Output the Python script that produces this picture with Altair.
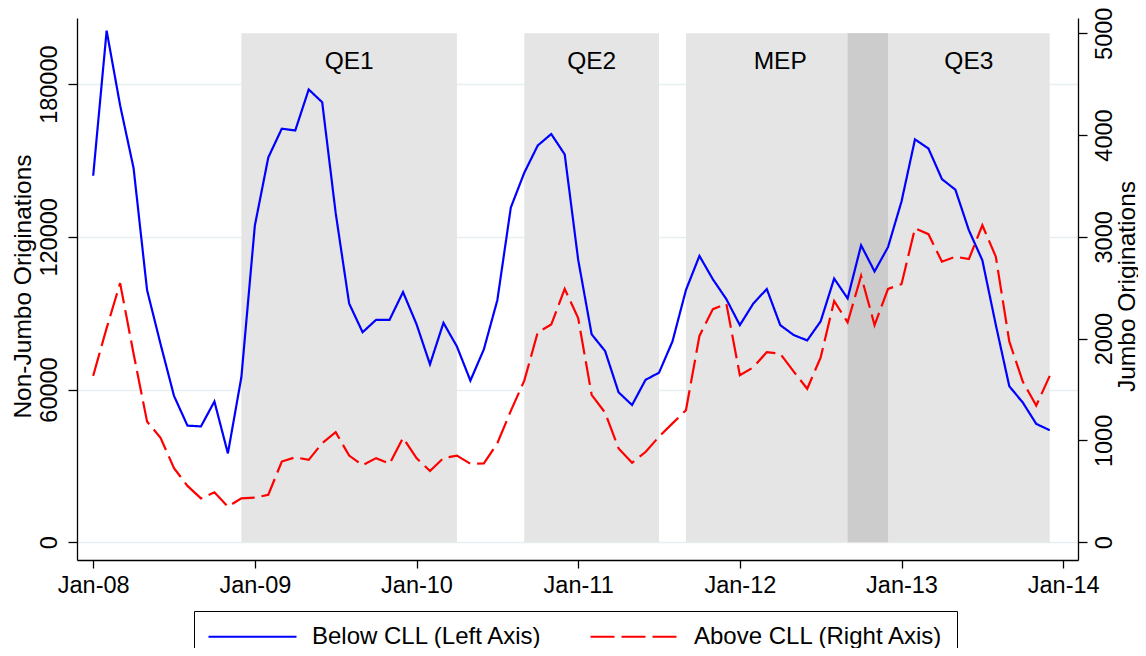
import json
import altair as alt
import pandas as pd

# ---- data ----
start_month = "2008-01"
below_cll = [144000, 201000, 171700, 147000, 99100, 77900, 57500, 45800, 45500, 55300,
             34900, 64800, 124400, 151200, 162500, 161800, 177900, 172900, 129400, 93800,
             82500, 87400, 87400, 98300, 85700, 69900, 86200, 76900, 63500, 75800,
             95100, 131500, 145200, 155900, 160400, 152400, 111000, 81700, 75100, 58900,
             53900, 63800, 66600, 78900, 99100, 112500, 103300, 95500, 85300, 93800,
             99500, 85300, 81400, 79300, 86800, 103600, 95800, 116700, 106400, 116000,
             133900, 158300, 154700, 142700, 138500, 122600, 110800, 85400, 61300, 54900,
             46500, 44000]
above_cll = [1634, 2103, 2545, 1851, 1185, 1026, 728, 553, 430, 490,
             350, 430, 437, 466, 792, 834, 809, 973, 1080, 851,
             756, 826, 770, 1026, 826, 700, 826, 851, 770, 774,
             973, 1290, 1587, 2062, 2138, 2489, 2201, 1448, 1272, 921,
             781, 886, 1037, 1167, 1297, 2026, 2290, 2342, 1640, 1718,
             1868, 1851, 1676, 1507, 1816, 2370, 2160, 2616, 2132, 2489,
             2535, 3085, 3026, 2756, 2805, 2781, 3114, 2805, 1973, 1578,
             1342, 1634]

programs = ["QE1", "QE2", "MEP", "QE3"]
prog_start = ["2008-12", "2010-09", "2011-09", "2012-09"]
prog_end = ["2010-04", "2011-07", "2012-12", "2013-12"]
label_month = ["2009-08", "2011-02", "2012-04", "2013-06"]
label_height = 188700          # left-axis units
shade_top = 200000             # left-axis units (= 5000 on right axis)

tick_labels = ["Jan-08", "Jan-09", "Jan-10", "Jan-11", "Jan-12", "Jan-13", "Jan-14"]
left_ticks = [0, 60000, 120000, 180000]
right_ticks = [0, 1000, 2000, 3000, 4000, 5000]

below_name = "Below CLL (Left Axis)"
above_name = "Above CLL (Right Axis)"

# ---- helpers ----
def midx(s):
    y, m = s.split("-")
    y0, m0 = start_month.split("-")
    return (int(y) - int(y0)) * 12 + int(m) - int(m0)

months = pd.period_range(start_month, periods=len(below_cll), freq="M")
idx = [midx(str(p)) for p in months]

df_below = pd.DataFrame({"t": idx, "v": below_cll, "series": below_name})
df_above = pd.DataFrame({"t": idx, "v": above_cll, "series": above_name})

df_prog = pd.DataFrame({
    "prog": programs,
    "start": [midx(s) for s in prog_start],
    "end": [midx(s) for s in prog_end],
    "lo": 0,
    "hi": shade_top,
})
# overlap of MEP and QE3
mep = df_prog[df_prog.prog == "MEP"].iloc[0]
qe3 = df_prog[df_prog.prog == "QE3"].iloc[0]
df_overlap = pd.DataFrame({"start": [max(mep.start, qe3.start)],
                           "end": [min(mep.end, qe3.end)],
                           "lo": [0], "hi": [shade_top]})
df_labels = pd.DataFrame({"prog": programs,
                          "t": [midx(s) for s in label_month],
                          "y": label_height})

FONT = "Liberation Sans"
LAB = 23.5
TIT = 24.5

x_scale = alt.Scale(domain=[-1.2, 73.1], nice=False, zero=False)
left_scale = alt.Scale(domain=[-7000, 206000], nice=False, zero=False)
right_scale = alt.Scale(domain=[-175, 5150], nice=False, zero=False)

x_axis = alt.Axis(values=[0, 12, 24, 36, 48, 60, 72],
                  labelExpr=json.dumps(tick_labels) + "[round(datum.value / 12)]",
                  tickSize=8, labelPadding=5, title=None, grid=False,
                  labelFlush=False, labelOverlap=False,
                  labelFontSize=LAB, labelFont=FONT, labelColor="black",
                  domainColor="black", tickColor="black", domainWidth=1.3, tickWidth=1.3)

left_axis = alt.Axis(values=left_ticks, format="d", orient="left",
                     labelAngle=270, labelAlign="center", labelBaseline="alphabetic",
                     labelPadding=12, tickSize=9, labelOverlap=False, labelFlush=False,
                     title="Non-Jumbo Originations", titleAngle=270, titleAlign="center",
                     titleBaseline="alphabetic", titleX=-47, titleY=268,
                     titleFontSize=TIT, titleFont=FONT, titleFontWeight="normal", titleColor="black",
                     grid=True, gridColor="#e8eff1", gridWidth=1.5,
                     labelFontSize=LAB, labelFont=FONT, labelColor="black",
                     domainColor="black", tickColor="black", domainWidth=1.3, tickWidth=1.3)

right_axis = alt.Axis(values=right_ticks, format="d", orient="right",
                      labelAngle=270, labelAlign="center", labelBaseline="top",
                      labelPadding=5, tickSize=9, labelOverlap=False, labelFlush=False,
                      title="Jumbo Originations", titleAngle=270, titleAlign="center",
                      titleBaseline="alphabetic", titleX=56, titleY=268,
                      titleFontSize=TIT, titleFont=FONT, titleFontWeight="normal", titleColor="black",
                      grid=False,
                      labelFontSize=LAB, labelFont=FONT, labelColor="black",
                      domainColor="black", tickColor="black", domainWidth=1.3, tickWidth=1.3)

# wide line-shaped legend symbol (custom path is scaled by sqrt(size)/2)
legend = alt.Legend(orient="none", legendX=117, legendY=593, direction="horizontal",
                    columns=2, title=None, symbolType="M-1,0H7", symbolSize=484,
                    symbolStrokeWidth=2.2, labelOffset=80, columnPadding=43,
                    padding=13, strokeColor="black", fillColor="white",
                    labelFontSize=24, labelFont=FONT, labelColor="black", labelLimit=500)

color = alt.Color("series:N",
                  scale=alt.Scale(domain=[below_name, above_name], range=["#0000ff", "#ff0000"]),
                  legend=legend)
dash = alt.StrokeDash("series:N",
                      scale=alt.Scale(domain=[below_name, above_name], range=[[1, 0], [24, 7]]),
                      legend=legend)

shade = alt.Chart(df_prog).mark_rect(color="#e5e5e5").encode(
    x=alt.X("start:Q", scale=x_scale, axis=x_axis),
    x2="end:Q",
    y=alt.Y("lo:Q", scale=left_scale, axis=left_axis),
    y2="hi:Q",
)
overlap = alt.Chart(df_overlap).mark_rect(color="#cccccc").encode(
    x=alt.X("start:Q", scale=x_scale, axis=x_axis),
    x2="end:Q",
    y=alt.Y("lo:Q", scale=left_scale, axis=left_axis),
    y2="hi:Q",
)
texts = alt.Chart(df_labels).mark_text(font=FONT, fontSize=TIT, color="black",
                                       baseline="middle", align="center").encode(
    x=alt.X("t:Q", scale=x_scale, axis=x_axis),
    y=alt.Y("y:Q", scale=left_scale, axis=left_axis),
    text="prog:N",
)
blue = alt.Chart(df_below).mark_line(strokeWidth=2.2).encode(
    x=alt.X("t:Q", scale=x_scale, axis=x_axis),
    y=alt.Y("v:Q", scale=left_scale, axis=left_axis),
    color=color,
    strokeDash=dash,
)
red = alt.Chart(df_above).mark_line(strokeWidth=2.2).encode(
    x=alt.X("t:Q", scale=x_scale, axis=x_axis),
    y=alt.Y("v:Q", scale=right_scale, axis=right_axis),
    color=color,
    strokeDash=dash,
)

left_group = alt.layer(shade, overlap, texts, blue)
chart = alt.layer(left_group, red).resolve_scale(y="independent").properties(
    width=1001, height=542,
    autosize=alt.AutoSizeParams(type="none"),
    padding={"left": 69, "top": 10, "right": 60, "bottom": 88},
    background="white",
).configure_view(stroke=None)

chart.save("out.html", embed_options={"renderer": "svg", "actions": False})
